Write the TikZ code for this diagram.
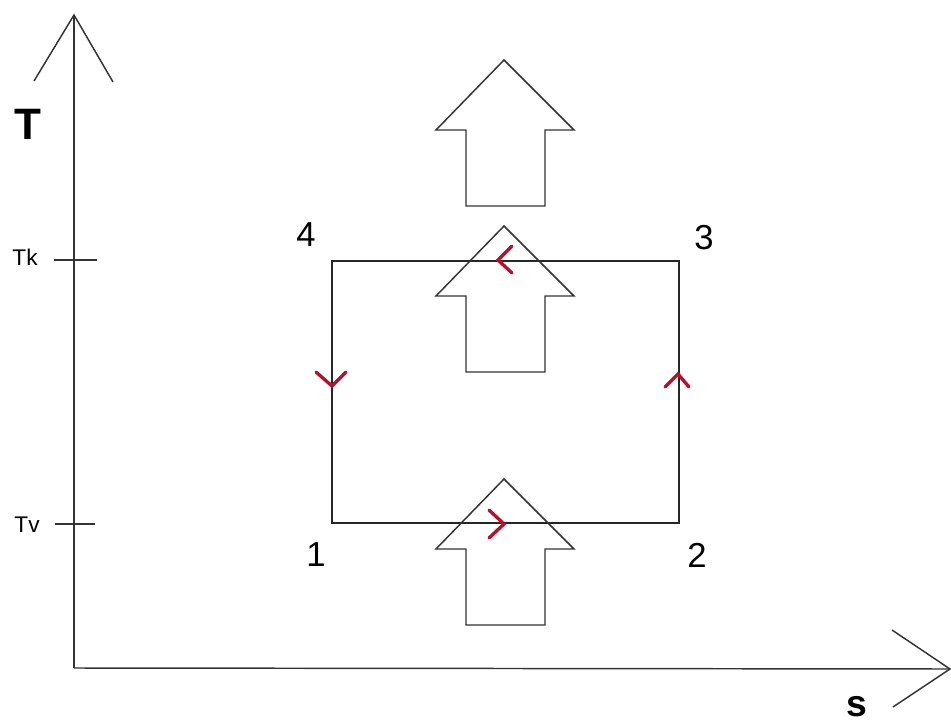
\documentclass[tikz,border=0pt]{standalone}
\usepackage{fontspec}
\setmainfont{Liberation Sans}
\definecolor{chevred}{HTML}{B8102C}
\begin{document}
\begin{tikzpicture}[x=0.75pt,y=-0.75pt,
  axis/.style={draw=black!80,line width=1.1pt},
  cyc/.style={draw=black!85,line width=1.1pt},
  blockarrow/.style={draw=black!80,line width=1.1pt},
  chev/.style={draw=chevred,line width=2.5pt,line cap=round,line join=miter},
  bigT/.style={font=\fontsize{33}{36}\selectfont\bfseries,inner sep=0pt},
  bigs/.style={font=\fontsize{28}{30}\selectfont\bfseries,inner sep=0pt},
  tick/.style={font=\fontsize{17}{19}\selectfont,inner sep=0pt},
  num/.style={font=\fontsize{26}{28}\selectfont,inner sep=0pt}]
\useasboundingbox (0,0) rectangle (951,728);
% axes
\coordinate (O) at (74,668);
\coordinate (ytip) at (74,15);
\coordinate (xtip) at (950,669);
\draw[axis] (O) -- (ytip);
\draw[axis] (O) -- (xtip);
\draw[axis] (34,81) -- (ytip) -- (113,82);
\draw[axis] (892,630) -- (xtip) -- (893,707);
\node[bigT] (Tlab) at (28,124) {T};
\node[bigs] (slab) at (857,707) {s};
% ticks
\coordinate (tk) at (74,260);
\coordinate (tv) at (74,524);
\draw[axis] (54,260) -- (97,260);
\draw[axis] (55,524) -- (95,524);
\node[tick] (Tk) at (25,257) {Tk};
\node[tick] (Tv) at (27,525) {Tv};
% cycle
\coordinate (p1) at (332,523);
\coordinate (p2) at (679,523);
\coordinate (p3) at (679,261);
\coordinate (p4) at (332,261);
\draw[cyc] (p1) -- (p2) -- (p3) -- (p4) -- cycle;
\node[num] (n4) at (306,235) {4};
\node[num] (n3) at (704,238) {3};
\node[num] (n1) at (316,555) {1};
\node[num] (n2) at (697,555) {2};
% block arrows
\foreach \y in {60,226,479}{
  \draw[blockarrow] (504,\y) -- (574,\y+70) -- (545,\y+70) -- (545,\y+146)
    -- (466,\y+146) -- (466,\y+70) -- (436,\y+70) -- cycle;
}
% direction chevrons
\draw[chev] (512,246) -- (498,260) -- (512,273);
\draw[chev] (489,510) -- (504,524) -- (489,538);
\draw[chev] (316,372) -- (332,386) -- (346,372);
\draw[chev] (665,387) -- (678,374) -- (689,387);
\end{tikzpicture}
\end{document}
